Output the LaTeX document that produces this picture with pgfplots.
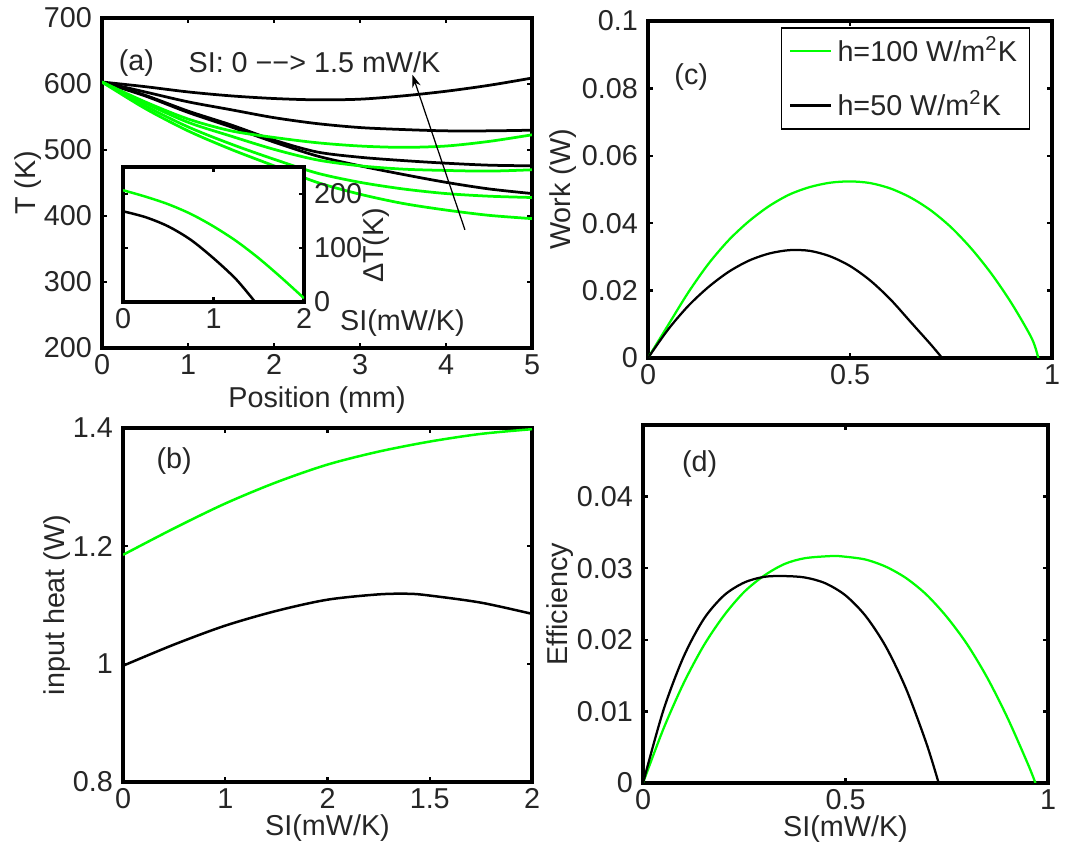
\documentclass[border=0pt]{standalone}
\usepackage{fontspec}
\setmainfont{Liberation Sans}
\usepackage{pgfplots}
\pgfplotsset{compat=1.18}
\usetikzlibrary{arrows.meta}
\definecolor{mgreen}{rgb}{0,1,0}
\definecolor{txt}{gray}{0.15}

\pgfplotsset{
  mlab/.style={
    scale only axis,
    anchor=south west,
    axis line style={line width=1.3pt},
    every tick/.style={black, line width=0.9pt},
    major tick length=2pt,
    tick align=inside,
    /pgf/number format/assume math mode=true,
    scaled ticks=false,
    xticklabel style={/pgf/number format/fixed, /pgf/number format/precision=2, text=txt, inner sep=2.5pt},
    yticklabel style={/pgf/number format/fixed, /pgf/number format/precision=2, text=txt},
    label style={text=txt},
    every axis plot/.append style={line width=1pt},
  }
}

\begin{document}
\fontsize{11.5}{13.5}\selectfont
\begin{tikzpicture}
\useasboundingbox (0,0) rectangle (430.8pt,336.8pt);

% (a) temperature profiles
\begin{axis}[mlab, at={(40.8pt,197.6pt)}, width=172pt, height=132pt,
  xmin=0, xmax=5, ymin=200, ymax=700,
  xtick={0,1,2,3,4,5}, ytick={200,300,400,500,600,700},
  xlabel={Position (mm)}, ylabel={T (K)},
  xlabel style={at={(axis description cs:0.5,-0.158)}, anchor=center},
  ylabel style={at={(axis description cs:-0.172,0.5)}, anchor=center},
  every axis plot/.append style={smooth, line width=1.1pt}]
\addplot[black] coordinates {(0,603) (0.5,596) (1,588) (1.5,582) (2,578) (2.5,576) (3,577) (3.5,582) (4,589) (4.5,598) (5,609)};
\addplot[black] coordinates {(0,603) (0.5,588) (1,573) (1.5,561) (2,549) (2.5,540) (3,534) (3.5,531) (4,529) (4.5,529) (5,530)};
\addplot[black] coordinates {(0,603) (0.5,583) (1,559) (1.5,538) (2,515) (2.5,497) (3,489) (3.5,484) (4,480) (4.5,477) (5,476)};
\addplot[black] coordinates {(0,603) (0.5,582) (1,557) (1.5,535) (2,512) (2.5,491) (3,476) (3.5,463) (4,451) (4.5,441) (5,434)};
\addplot[mgreen] coordinates {(0,603) (0.5,573) (1,547) (1.5,529) (2,519) (2.5,511) (3,506) (3.5,504) (4,506) (4.5,513) (5,523)};
\addplot[mgreen] coordinates {(0,603) (0.5,571) (1,542) (1.5,521) (2,501) (2.5,485) (3,476) (3.5,471) (4,469) (4.5,468) (5,470)};
\addplot[mgreen] coordinates {(0,603) (0.5,567) (1,535) (1.5,509) (2,486) (2.5,465) (3,451) (3.5,441) (4,434) (4.5,430) (5,428)};
\addplot[mgreen] coordinates {(0,603) (0.5,563) (1,529) (1.5,501) (2,476) (2.5,451) (3,433) (3.5,419) (4,409) (4.5,401) (5,396)};
\node[text=txt] at (axis cs:0.40,631) {(a)};
\node[text=txt] at (axis cs:2.47,633) {SI: 0 −−> 1.5 mW/K};
\draw[line width=0.5pt, -{Stealth[length=5pt,width=3.5pt]}] (axis cs:4.22,379) -- (axis cs:3.61,614);
\end{axis}

% inset of (a)
\begin{axis}[mlab, at={(49.2pt,216pt)}, width=72.4pt, height=54pt,
  axis background/.style={fill=white},
  xmin=0, xmax=2, ymin=0, ymax=250,
  xtick={0,1,2}, ytick={0,100,200}, yticklabel pos=right,
  xlabel={SI(mW/K)}, ylabel={ΔT(K)},
  xlabel style={at={(axis description cs:1.144,-0.156)}, anchor=west},
  ylabel style={at={(axis description cs:1.40,0.42)}, anchor=center},
  every axis plot/.append style={smooth, line width=1pt}]
\addplot[mgreen] coordinates {(0,207) (0.25,195) (0.5,181) (0.75,163) (1,140) (1.25,113) (1.5,81) (1.75,45) (2,7)};
\addplot[black] coordinates {(0,168) (0.25,157) (0.5,140) (0.75,115) (1,81) (1.25,42) (1.46,0)};
\end{axis}

% (c) work
\begin{axis}[mlab, at={(259.2pt,193.6pt)}, width=161.6pt, height=134.8pt,
  xmin=0, xmax=1, ymin=0, ymax=0.1,
  xtick={0,0.5,1}, ytick={0,0.02,0.04,0.06,0.08,0.1},
  ylabel={Work (W)},
  ylabel style={at={(axis description cs:-0.210,0.5)}, anchor=center},
  legend style={at={(axis description cs:0.946,0.982)}, anchor=north east,
    draw=black, line width=0.6pt, inner xsep=3pt, inner ysep=1.5pt, row sep=6pt,
    text=txt, font=\fontsize{11.5}{13.5}\selectfont},
  legend cell align=left,
  legend image code/.code={\draw[#1, line width=1pt] (0pt,0pt) -- (16.5pt,0pt);},
  every axis plot/.append style={smooth, line width=0.9pt}]
\addplot[mgreen] coordinates {(0,0) (0.05,0.0098) (0.1,0.0195) (0.15,0.0280) (0.2,0.0350) (0.25,0.0406) (0.3,0.0451) (0.35,0.0485) (0.4,0.0507) (0.45,0.0520) (0.5,0.0524) (0.55,0.0519) (0.6,0.0503) (0.65,0.0476) (0.7,0.0438) (0.75,0.0388) (0.8,0.0325) (0.85,0.0250) (0.9,0.0162) (0.95,0.0058) (0.966,0)};
\addlegendentry{h=100 W/m\textsuperscript{2}K}
\addplot[black] coordinates {(0,0) (0.05,0.0085) (0.1,0.0155) (0.15,0.0211) (0.2,0.0256) (0.25,0.0289) (0.3,0.0310) (0.35,0.0320) (0.4,0.0318) (0.45,0.0302) (0.5,0.0273) (0.55,0.0230) (0.6,0.0174) (0.65,0.0107) (0.7,0.0040) (0.728,0)};
\addlegendentry{h=50 W/m\textsuperscript{2}K}
\node[text=txt] at (axis cs:0.107,0.0835) {(c)};
\end{axis}

% (b) input heat
\begin{axis}[mlab, at={(49.2pt,24pt)}, width=163.6pt, height=141.6pt,
  xmin=0, xmax=2, ymin=0.8, ymax=1.4,
  xtick={0,0.5,1,1.5,2}, xticklabels={0,1,2,1.5,2},
  ytick={0.8,1,1.2,1.4},
  xlabel={SI(mW/K)}, ylabel={input heat (W)},
  xlabel style={at={(axis description cs:0.5,-0.131)}, anchor=center},
  ylabel style={at={(axis description cs:-0.161,0.5)}, anchor=center},
  every axis plot/.append style={smooth, line width=1pt}]
\addplot[mgreen] coordinates {(0,1.185) (0.25,1.230) (0.5,1.272) (0.75,1.308) (1,1.338) (1.25,1.360) (1.5,1.377) (1.75,1.390) (2,1.398)};
\addplot[black] coordinates {(0,0.997) (0.25,1.033) (0.5,1.065) (0.75,1.090) (1,1.109) (1.25,1.118) (1.4,1.119) (1.5,1.116) (1.75,1.104) (2,1.085)};
\node[text=txt] at (axis cs:0.25,1.344) {(b)};
\end{axis}

% (d) efficiency
\begin{axis}[mlab, at={(257.2pt,23.6pt)}, width=162pt, height=143.2pt,
  xmin=0, xmax=1, ymin=0, ymax=0.05,
  xtick={0,0.5,1}, ytick={0,0.01,0.02,0.03,0.04},
  xlabel={SI(mW/K)}, ylabel={Efficiency},
  xlabel style={at={(axis description cs:0.5,-0.130)}, anchor=center},
  ylabel style={at={(axis description cs:-0.204,0.5)}, anchor=center},
  every axis plot/.append style={smooth, line width=0.9pt}]
\addplot[mgreen] coordinates {(0,0) (0.05,0.0075) (0.1,0.0139) (0.15,0.0192) (0.2,0.0234) (0.25,0.0267) (0.3,0.0290) (0.35,0.0306) (0.4,0.0314) (0.467,0.0317) (0.5,0.0316) (0.55,0.0312) (0.6,0.0302) (0.65,0.0286) (0.7,0.0263) (0.75,0.0232) (0.8,0.0194) (0.85,0.0147) (0.9,0.0091) (0.95,0.0027) (0.969,0)};
\addplot[black] coordinates {(0,0) (0.05,0.0101) (0.1,0.0176) (0.15,0.0229) (0.2,0.0262) (0.25,0.0280) (0.3,0.0288) (0.35,0.0289) (0.4,0.0287) (0.45,0.0279) (0.5,0.0262) (0.55,0.0233) (0.6,0.0190) (0.65,0.0131) (0.7,0.0055) (0.73,0)};
\node[text=txt] at (axis cs:0.14,0.0445) {(d)};
\end{axis}
\end{tikzpicture}
\end{document}
